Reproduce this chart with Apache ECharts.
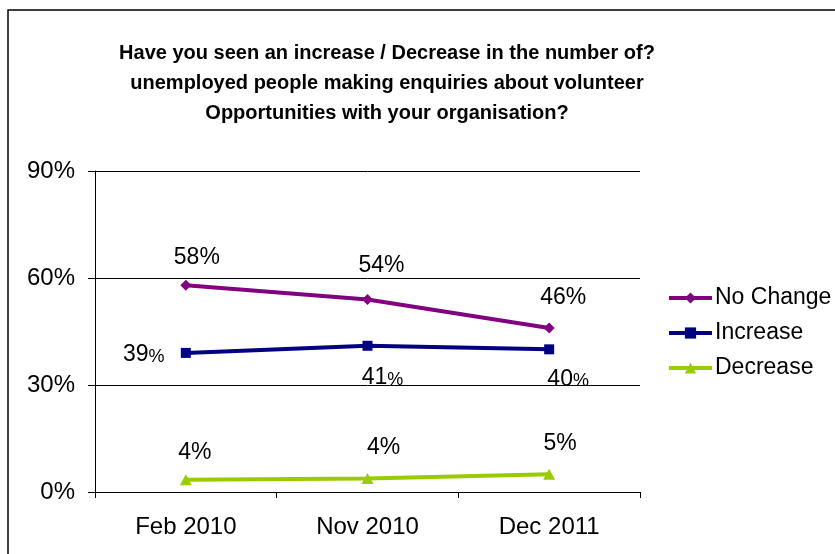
<!DOCTYPE html>
<html>
<head>
<meta charset="utf-8">
<script src="https://cdn.jsdelivr.net/npm/echarts@6/dist/echarts.min.js"></script>
<style>
html,body{margin:0;padding:0;background:#fff;}
#chart{width:835px;height:554px;}
</style>
</head>
<body>
<div id="chart"></div>
<script>
// ---- data ----
var categories = ['Feb 2010', 'Nov 2010', 'Dec 2011'];
var seriesNames = ['No Change', 'Increase', 'Decrease'];
var noChange = [58, 54, 46];
var increase = [39, 41, 40];
var decrease = [3.4, 3.8, 5.0];
var noChangeLabels = ['58', '54', '46'];
var increaseLabels = ['39', '41', '40'];
var decreaseLabels = ['4', '4', '5'];
var yTicks = [0, 30, 60, 90];

// ---- style ----
var FONT = '"Liberation Sans", Arial, sans-serif';
var colors = ['#800080', '#000080', '#99CC00'];
var symbols = ['diamond', 'rect', 'triangle'];
var symbolSizes = [[11, 11], [10, 10], [12, 11]];
var labelOffsets = [
  [[11, -27], [14, -34], [14, -30]],
  [[-42, 2], [15, 32], [19, 30]],
  [[9, -27], [16, -31], [11, -31]]
];
var smallPct = [false, true, false];

function buildData(values, labels, si) {
  return values.map(function (v, i) {
    return {
      value: v,
      label: {
        offset: labelOffsets[si][i],
        formatter: smallPct[si] ? '{a|' + labels[i] + '}{b|%}' : labels[i] + '%'
      }
    };
  });
}

var allValues = [noChange, increase, decrease];
var allLabels = [noChangeLabels, increaseLabels, decreaseLabels];

var series = seriesNames.map(function (name, si) {
  return {
    name: name,
    type: 'line',
    data: buildData(allValues[si], allLabels[si], si),
    symbol: symbols[si],
    symbolSize: symbolSizes[si],
    showAllSymbol: true,
    lineStyle: { color: colors[si], width: 4 },
    itemStyle: { color: colors[si] },
    label: {
      show: true,
      position: 'inside',
      color: '#000',
      fontFamily: FONT,
      fontSize: 23,
      rich: {
        a: { fontFamily: FONT, fontSize: 23, color: '#000' },
        b: { fontFamily: FONT, fontSize: 18, color: '#000', padding: [4, 0, 0, 0] }
      }
    },
    emphasis: { disabled: true },
    animation: false,
    z: 3
  };
});

var chart = echarts.init(document.getElementById('chart'), null, { renderer: 'canvas' });
chart.setOption({
  animation: false,
  backgroundColor: '#fff',
  title: {
    text: 'Have you seen an increase / Decrease in the number of?\nunemployed people making enquiries about volunteer\nOpportunities with your organisation?',
    left: 382,
    top: 33,
    textAlign: 'center',
    textStyle: {
      fontFamily: FONT,
      fontSize: 20,
      fontWeight: 'bold',
      color: '#000',
      lineHeight: 30
    }
  },
  graphic: [{
    type: 'rect',
    shape: { x: 8, y: 10, width: 900, height: 700 },
    style: { fill: 'none', stroke: '#000', lineWidth: 1.5 },
    silent: true,
    z: 100
  }],
  legend: {
    orient: 'vertical',
    left: 667,
    top: 286,
    padding: 0,
    itemWidth: 43,
    itemHeight: 14,
    itemGap: 11,
    data: seriesNames,
    lineStyle: { width: 4 },
    textStyle: { fontFamily: FONT, fontSize: 23, color: '#000', lineHeight: 24, padding: [0, 0, 0, -2] }
  },
  grid: { left: 95, right: 195, top: 171, bottom: 62 },
  xAxis: {
    type: 'category',
    data: categories,
    boundaryGap: true,
    axisLine: { show: true, lineStyle: { color: '#000', width: 1 } },
    axisTick: { show: true, length: 6, lineStyle: { color: '#000' } },
    axisLabel: { fontFamily: FONT, fontSize: 24, color: '#000', margin: 23 },
    splitLine: { show: false }
  },
  yAxis: {
    type: 'value',
    min: yTicks[0],
    max: yTicks[yTicks.length - 1],
    interval: yTicks[1] - yTicks[0],
    axisLine: { show: true, lineStyle: { color: '#000', width: 1 } },
    axisTick: { show: true, length: 7, lineStyle: { color: '#000' } },
    axisLabel: { fontFamily: FONT, fontSize: 24, color: '#000', margin: 20, formatter: '{value}%' },
    splitLine: { show: true, lineStyle: { color: '#000', width: 1 } }
  },
  series: series
});
</script>
</body>
</html>
